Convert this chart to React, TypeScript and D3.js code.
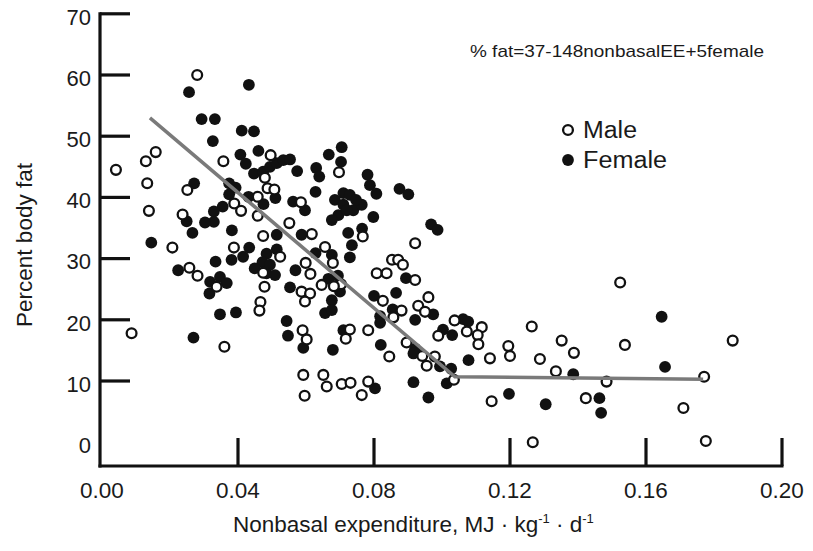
import React from "react";
import * as d3 from "d3";

// Male (open circles)
const maleX = [0.0041,0.0087,0.0280,0.0158,0.0129,0.0357,0.0479,0.0133,0.0251,0.0458,0.0389,0.0409,0.0138,0.0237,0.0458,0.0474,0.0207,0.0388,0.0257,0.0281,0.0474,0.0496,0.0487,0.0507,0.0551,0.0524,0.0697,0.0585,0.0921,0.0767,0.0617,0.0656,0.0853,0.0871,0.0885,0.0808,0.0837,0.0599,0.0613,0.0679,0.0921,0.0646,0.0703,0.0682,0.0587,0.0612,0.0597,0.0826,0.0960,0.0930,0.0950,0.0881,0.0857,0.1037,0.0989,0.1073,0.0590,0.0602,0.0729,0.0717,0.0783,0.0845,0.0896,0.0942,0.0955,0.0979,0.1035,0.0592,0.0651,0.0661,0.0705,0.0731,0.0783,0.0764,0.0596,0.0478,0.0466,0.0463,0.0337,0.0360,0.1117,0.1105,0.1107,0.1264,0.1524,0.1352,0.1388,0.1195,0.1200,0.1141,0.1288,0.1335,0.1538,0.1484,0.1146,0.1423,0.1267,0.1855,0.1771,0.1710,0.1776];
const maleY = [44.5,17.8,60.0,47.4,45.9,45.9,43.2,42.3,41.2,40.1,39.0,37.8,37.8,37.2,37.0,33.7,31.8,31.8,28.5,27.2,27.7,46.9,41.5,41.3,35.8,30.3,44.1,39.2,32.5,33.6,34.0,31.9,29.8,29.8,29.0,27.6,27.6,29.3,27.5,29.3,26.5,25.7,25.8,25.5,24.6,24.3,23.0,23.1,23.7,22.3,21.3,21.5,20.4,19.9,17.4,18.1,18.3,16.8,18.4,16.9,18.3,14.0,16.3,14.1,12.5,14.0,10.2,11.0,11.0,9.1,9.5,9.7,9.9,7.7,7.6,25.4,22.9,21.5,25.4,15.6,18.8,17.5,16.0,18.9,26.1,16.6,14.6,15.7,14.1,13.7,13.6,11.6,15.9,9.9,6.7,7.2,0.0,16.6,10.7,5.6,0.2];

// Female (filled circles)
const femaleX = [0.0256,0.0432,0.0293,0.0332,0.0326,0.0411,0.0447,0.0407,0.0423,0.0460,0.0447,0.0271,0.0374,0.0393,0.0374,0.0431,0.0475,0.0355,0.0329,0.0329,0.0303,0.0249,0.0266,0.0382,0.0145,0.0433,0.0415,0.0381,0.0334,0.0224,0.0484,0.0514,0.0472,0.0449,0.0474,0.0494,0.0514,0.0533,0.0553,0.0574,0.0510,0.0562,0.0597,0.0514,0.0587,0.0705,0.0667,0.0703,0.0630,0.0639,0.0781,0.0788,0.0807,0.0875,0.0901,0.0628,0.0710,0.0729,0.0685,0.0710,0.0739,0.0764,0.0695,0.0676,0.0720,0.0747,0.0798,0.0968,0.0987,0.0724,0.0765,0.0735,0.0676,0.0729,0.0628,0.0666,0.0694,0.0569,0.0494,0.0484,0.0509,0.0894,0.0700,0.0676,0.0656,0.0676,0.0553,0.0800,0.0865,0.0974,0.0921,0.0855,0.0818,0.0818,0.1062,0.1077,0.1003,0.1030,0.0592,0.0710,0.0679,0.0820,0.0921,0.0916,0.0994,0.1027,0.1014,0.1078,0.0803,0.0916,0.0960,0.0318,0.0347,0.0367,0.0316,0.0347,0.0394,0.0543,0.0547,0.0269,0.1197,0.1305,0.1463,0.1468,0.1386,0.1646,0.1656];
const femaleY = [57.2,58.4,52.8,52.8,49.2,50.9,50.8,47.0,45.5,47.6,43.9,42.3,42.3,41.6,40.5,40.1,38.9,38.5,37.7,36.0,35.9,36.1,34.2,34.6,32.6,31.8,30.3,29.8,29.5,28.1,30.8,31.5,29.4,28.4,44.2,45.0,45.6,46.1,46.2,44.3,39.9,39.3,37.9,33.9,33.9,48.2,47.0,45.8,44.8,43.4,43.7,42.0,40.6,41.4,40.5,40.9,40.7,40.4,39.6,38.8,37.9,38.8,37.1,36.3,37.9,39.6,36.8,35.6,34.7,34.2,34.9,32.2,30.6,30.2,30.9,26.7,27.2,28.1,29.0,27.6,27.3,26.8,24.6,23.2,21.1,21.6,25.3,23.9,24.4,20.9,20.0,21.7,20.6,19.5,20.1,19.7,18.4,17.5,15.4,18.3,15.1,15.9,15.3,14.5,12.4,12.0,9.6,13.4,8.8,9.8,7.3,26.2,27.0,26.0,24.3,20.9,21.2,19.8,17.4,17.1,7.9,6.2,7.2,4.8,11.1,20.5,12.3];

// Fitted piecewise regression line
const lineX = [0.0141, 0.1038, 0.1768];
const lineY = [53.0, 10.7, 10.3];

const xTicks = [0, 0.04, 0.08, 0.12, 0.16, 0.2];
const xTickLabels = ["0.00", "0.04", "0.08", "0.12", "0.16", "0.20"];
const yTicks = [0, 10, 20, 30, 40, 50, 60, 70];
const yTickLabels = ["0", "10", "20", "30", "40", "50", "60", "70"];

const W = 813, H = 551;
const FONT = "'Liberation Sans', Arial, sans-serif";

export default function App() {
  const x = d3.scaleLinear().domain([0, 0.2]).range([102, 782]);
  const y = d3.scaleLinear().domain([0, 70]).range([442.2, 13.8]);
  const axisY = 466;
  const axisX = 100;
  const line = d3.line<number>().x((_, i) => x(lineX[i])).y((_, i) => y(lineY[i]));
  const r = 4.9;
  const rf = 5.9;
  const ink = "#111";
  const txt = "#1a1a1a";
  return (
    <svg width={W} height={H} style={{ position: "absolute", left: 0, top: 0, background: "#fff" }} fontFamily={FONT}>
      <rect x={0} y={0} width={W} height={H} fill="#fff" />
      {/* axes */}
      <line x1={axisX} x2={axisX} y1={y(70) - 1.5} y2={axisY + 1.5} stroke={ink} strokeWidth={3.2} />
      <line x1={axisX - 1.5} x2={x(0.2) + 1.5} y1={axisY} y2={axisY} stroke={ink} strokeWidth={3.2} />
      {yTicks.filter((t) => t > 0).map((t) => (
        <line key={"yt" + t} x1={axisX} x2={axisX + 30} y1={y(t)} y2={y(t)} stroke={ink} strokeWidth={3.2} />
      ))}
      {xTicks.filter((t) => t > 0).map((t) => (
        <line key={"xt" + t} x1={x(t)} x2={x(t)} y1={axisY} y2={axisY - 28} stroke={ink} strokeWidth={3.2} />
      ))}
      {yTicks.map((t, i) => (
        <text key={"yl" + t} x={91} y={y(t) + 3} dy="0.35em" textAnchor="end" fontSize={22} fill={txt}>
          {yTickLabels[i]}
        </text>
      ))}
      {xTicks.map((t, i) => (
        <text key={"xl" + t} x={x(t)} y={498} textAnchor="middle" fontSize={22.5} fill={txt}>
          {xTickLabels[i]}
        </text>
      ))}
      {/* axis titles */}
      <text transform={`translate(32,245) rotate(-90)`} textAnchor="middle" fontSize={22.5} fill={txt}>
        Percent body fat
      </text>
      <text x={233} y={532} fontSize={22.5} fill={txt}>
        Nonbasal expenditure, MJ · kg
        <tspan dy={-9} fontSize={13}>-1</tspan>
        <tspan dy={9}> · d</tspan>
        <tspan dy={-9} fontSize={13}>-1</tspan>
      </text>
      {/* equation */}
      <text x={470} y={57} fontSize={17} fill={txt} textLength={294} lengthAdjust="spacingAndGlyphs">
        % fat=37-148nonbasalEE+5female
      </text>
      {/* points */}
      {femaleX.map((v, i) => (
        <circle key={"f" + i} cx={x(v)} cy={y(femaleY[i])} r={rf} fill={ink} />
      ))}
      {maleX.map((v, i) => (
        <circle key={"m" + i} cx={x(v)} cy={y(maleY[i])} r={r} fill="#fff" stroke={ink} strokeWidth={2.3} />
      ))}
      <path d={line(lineX) || ""} fill="none" stroke="#7a7a7a" strokeWidth={3.5} />
      {/* legend */}
      <circle cx={568} cy={130} r={r} fill="#fff" stroke={ink} strokeWidth={2.3} />
      <text x={583} y={138} fontSize={23} fill={txt} textLength={54} lengthAdjust="spacingAndGlyphs">Male</text>
      <circle cx={568} cy={160} r={rf} fill={ink} />
      <text x={583} y={168} fontSize={23} fill={txt} textLength={84} lengthAdjust="spacingAndGlyphs">Female</text>
    </svg>
  );
}
